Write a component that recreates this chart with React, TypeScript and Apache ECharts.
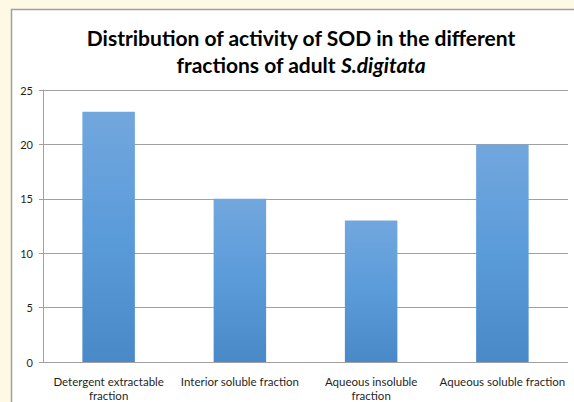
import React, { useEffect, useRef } from "react";
import * as echarts from "echarts";

const categories = [
  "Detergent extractable\nfraction",
  "Interior soluble fraction",
  "Aqueous insoluble\nfraction",
  "Aqueous soluble fraction",
];
const sodActivity = [23, 15, 13, 20];
const yTicks = { min: 0, max: 25, interval: 5 };

export default function App() {
  const ref = useRef<HTMLDivElement>(null);
  useEffect(() => {
    if (!ref.current) return;
    const chart = echarts.init(ref.current, null, { renderer: "svg" });
    chart.setOption({
      animation: false,
      backgroundColor: "#FEF9E4",
      textStyle: { fontFamily: "Lato" },
      graphic: [
        {
          type: "rect",
          z: -10,
          silent: true,
          shape: { x: 11.5, y: 9.5, width: 620, height: 420 },
          style: { fill: "#FFFFFF", stroke: "#A0A0A0", lineWidth: 1.5 },
        },
      ],
      title: {
        text: "Distribution of activity of SOD in the different\nfractions of adult {i|S.digitata}",
        left: 296,
        top: 19,
        textAlign: "center",
        textStyle: {
          fontFamily: "Lato",
          fontWeight: "bold",
          fontSize: 21,
          lineHeight: 27,
          color: "#000000",
          rich: {
            i: {
              fontFamily: "Lato",
              fontWeight: "bold",
              fontStyle: "italic",
              fontSize: 21,
              lineHeight: 27,
              color: "#000000",
            },
          },
        },
      },
      grid: { left: 43, right: 6, top: 90, bottom: 40 },
      xAxis: {
        type: "category",
        data: categories,
        axisLine: { show: false },
        axisTick: { show: false },
        axisLabel: {
          interval: 0,
          fontFamily: "Lato",
          fontSize: 11.5,
          lineHeight: 14,
          color: "#1F1F1F",
          margin: 12,
        },
      },
      yAxis: {
        type: "value",
        min: yTicks.min,
        max: yTicks.max,
        interval: yTicks.interval,
        axisLine: { show: true, lineStyle: { color: "#A0A0A0", width: 1 } },
        axisTick: { show: true, length: 4, lineStyle: { color: "#A0A0A0" } },
        splitLine: { show: true, lineStyle: { color: "#A0A0A0", width: 1 } },
        axisLabel: {
          fontFamily: "Lato",
          fontSize: 11,
          color: "#1F1F1F",
          margin: 10,
        },
      },
      series: [
        {
          type: "bar",
          data: sodActivity,
          barWidth: "40%",
          itemStyle: {
            color: new echarts.graphic.LinearGradient(0, 0, 0, 1, [
              { offset: 0, color: "#72A7DD" },
              { offset: 0.5, color: "#5A9BDA" },
              { offset: 1, color: "#4A89C8" },
            ]),
          },
        },
      ],
    });
    return () => chart.dispose();
  }, []);
  return (
    <div
      ref={ref}
      style={{ position: "fixed", left: 0, top: 0, width: 574, height: 402 }}
    />
  );
}
